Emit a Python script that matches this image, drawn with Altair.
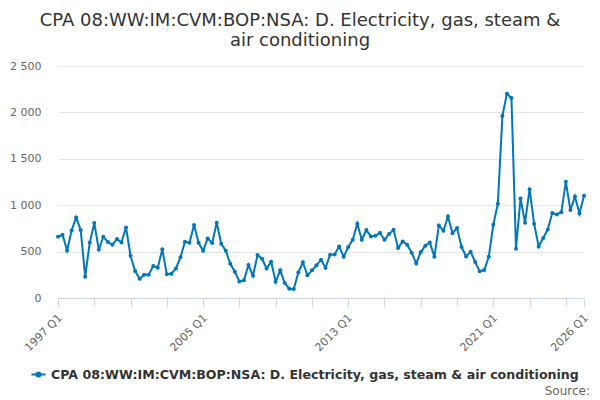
import altair as alt
import pandas as pd

series_name = "CPA 08:WW:IM:CVM:BOP:NSA: D. Electricity, gas, steam & air conditioning"
title_lines = ["CPA 08:WW:IM:CVM:BOP:NSA: D. Electricity, gas, steam &", "air conditioning"]

start_year = 1997
values = [
    660, 681, 513, 728, 868, 732, 230, 599, 807, 520, 660, 603, 574, 635, 599, 760,
    455, 290, 208, 251, 251, 344, 326, 524, 255, 262, 319, 438, 606, 595, 786, 595,
    509, 642, 592, 811, 585, 509, 369, 283, 179, 190, 355, 240, 463, 423, 319, 391,
    176, 298, 161, 100, 97, 276, 385, 244, 298, 352, 413, 326, 466, 470, 556, 445,
    549, 628, 800, 628, 732, 664, 671, 703, 628, 689, 735, 538, 610, 574, 488, 373,
    495, 563, 599, 445, 782, 725, 879, 699, 753, 549, 448, 499, 387, 287, 301, 445,
    789, 1015, 1962, 2202, 2156, 531, 1073, 811, 1173, 800, 556, 646, 739, 915, 900, 925,
    1252, 947, 1094, 911, 1101,
]
tick_positions = [0, 8, 16, 24, 32, 40, 48, 56, 64, 72, 80, 88, 96, 104, 112, 116]
labelled = {0: "1997 Q1", 32: "2005 Q1", 64: "2013 Q1", 96: "2021 Q1", 116: "2026 Q1"}

idx = list(range(len(values)))
quarters = [f"{start_year + i // 4} Q{i % 4 + 1}" for i in idx]
df = pd.DataFrame({"idx": idx, "quarter": quarters, "value": values, "series": series_name})

label_expr = " : ".join(
    [f"datum.value == {k} ? '{v}'" for k, v in labelled.items()] + ["''"]
)

FONT = "DejaVu Sans"
COLOR = "#0077bd"
LEGEND_SYMBOL = "M-1,0L1,0M-0.3,0A0.3,0.3 0 1,0 0.3,0A0.3,0.3 0 1,0 -0.3,0Z"

base = alt.Chart(df)

line = base.mark_line(
    strokeWidth=2,
    point=alt.OverlayMarkDef(size=16, filled=True, color=COLOR),
).encode(
    x=alt.X(
        "idx:Q",
        scale=alt.Scale(domain=[0, 116], nice=False, zero=False),
        axis=alt.Axis(
            values=tick_positions,
            labelExpr=label_expr,
            labelAngle=-45,
            labelAlign="right",
            labelBaseline="middle",
            labelFontSize=11,
            labelColor="#666666",
            labelFont=FONT,
            labelPadding=10,
            labelOffset=2,
            labelOverlap=False,
            labelBound=False,
            labelFlush=False,
            tickSize=8,
            tickColor="#ccd6eb",
            domainColor="#ccd6eb",
            grid=False,
            title=None,
        ),
    ),
    y=alt.Y(
        "value:Q",
        scale=alt.Scale(domain=[0, 2500], nice=False),
        axis=alt.Axis(
            values=[0, 500, 1000, 1500, 2000, 2500],
            labelExpr="replace(format(datum.value, ','), ',', ' ')",
            labelFontSize=11,
            labelColor="#666666",
            labelFont=FONT,
            labelPadding=17,
            domain=False,
            ticks=False,
            gridColor="#e6e6e6",
            title=None,
        ),
    ),
    color=alt.Color(
        "series:N",
        scale=alt.Scale(range=[COLOR]),
        legend=alt.Legend(
            orient="none",
            legendX=-28,
            legendY=300,
            title=None,
            symbolType=LEGEND_SYMBOL,
            symbolStrokeWidth=2,
            symbolSize=200,
            symbolFillColor=COLOR,
            symbolStrokeColor=COLOR,
            labelFont=FONT,
            labelFontSize=12.6,
            labelFontWeight="bold",
            labelColor="#333333",
            labelLimit=0,
        ),
    ),
)

source = alt.Chart(pd.DataFrame({"t": ["Source:"]})).mark_text(
    align="right", baseline="middle", font=FONT, fontSize=12, color="#666666"
).encode(text="t:N", x=alt.value(532), y=alt.value(325))

chart = alt.layer(line, source).properties(
    width=526,
    height=232,
    autosize=alt.AutoSizeParams(type="none"),
    padding={"left": 50, "top": 58, "right": 8, "bottom": 102},
    title=alt.Title(
        title_lines,
        font=FONT,
        fontSize=18,
        fontWeight="normal",
        color="#333333",
        anchor="middle",
        frame="group",
        dx=-21,
        offset=10,
        lineHeight=20,
    ),
).configure_view(stroke=None)

chart.save("out.html", embed_options={"renderer": "svg", "actions": False})
